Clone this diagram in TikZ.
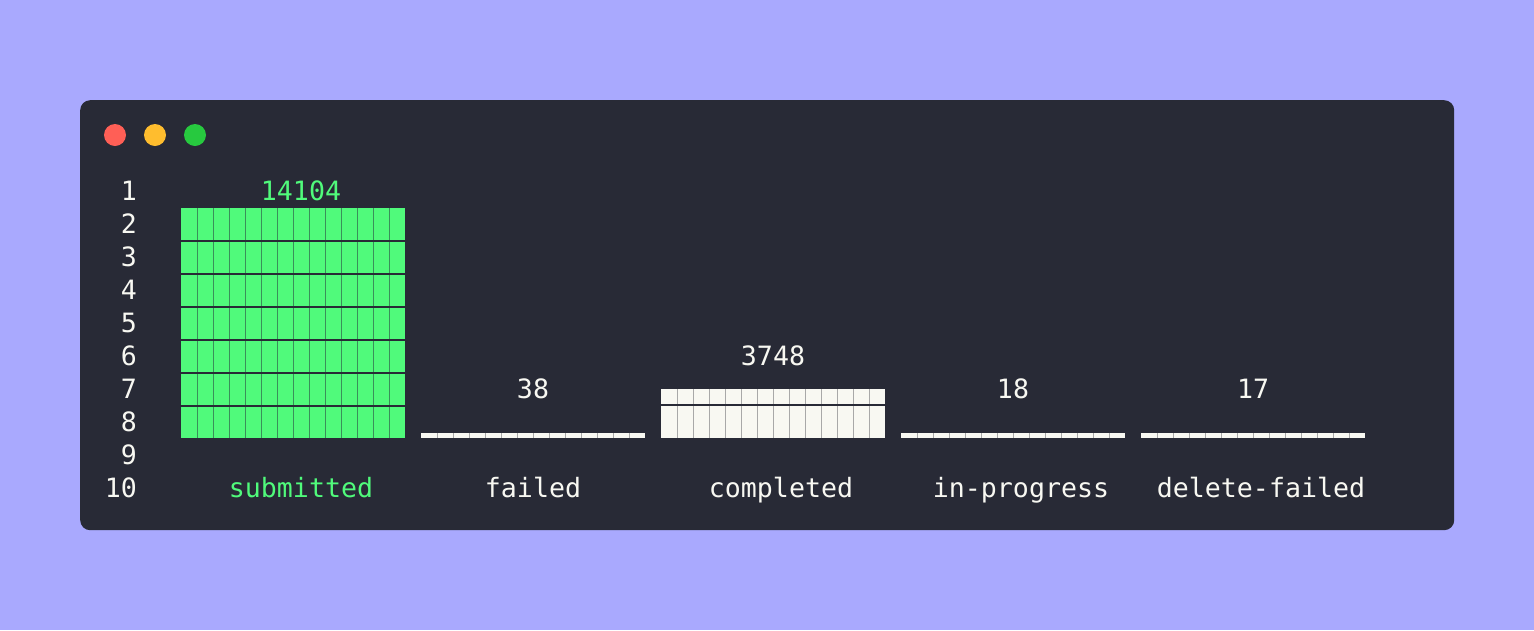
\documentclass[tikz,border=0pt]{standalone}
\usepackage{fontspec}
\setmonofont{DejaVu Sans Mono}
\definecolor{pagebg}{HTML}{A9A9FE}
\definecolor{winbg}{HTML}{282A36}
\definecolor{fg}{HTML}{F8F8F2}
\definecolor{grn}{HTML}{50FA7B}
\definecolor{grnsep}{HTML}{3A8F5A}
\definecolor{whsep}{HTML}{A8A8A8}
\definecolor{dotred}{HTML}{FF5F56}
\definecolor{dotyel}{HTML}{FFBD2E}
\definecolor{dotgrn}{HTML}{27C93F}
\tikzset{
  txt/.style={inner sep=0pt, font=\ttfamily\fontsize{26.6}{30}\selectfont, text=fg},
  lnum/.style={txt, anchor=base east},
  lbl/.style={txt, anchor=base},
  dot/.style={circle, inner sep=0pt, minimum size=22pt},
}
\begin{document}
\begin{tikzpicture}[x=1pt,y=-1pt]
\useasboundingbox (0,0) rectangle (1534,630);
\fill[pagebg] (0,0) rectangle (1534,630);
\node[fill=winbg, rounded corners=10pt, minimum width=1374pt, minimum height=430pt, inner sep=0pt, anchor=north west] (win) at (80,100) {};
\node[dot, fill=dotred] (d1) at (115,135) {};
\node[dot, fill=dotyel] (d2) at (155,135) {};
\node[dot, fill=dotgrn] (d3) at (195,135) {};
% line numbers
\foreach \i in {1,...,10} {
  \node[lnum] (ln\i) at (137,{191+33*(\i-1)+9.3}) {\i};
}
% submitted bar
\fill[grn] (181,208) rectangle (405,438);
\foreach \j in {1,...,13} \draw[grnsep, line width=0.8pt] ({181+16*\j},208) -- ({181+16*\j},438);
\foreach \k in {0,...,5} \draw[winbg, line width=1.8pt] (181,{240.8+33*\k}) -- (405,{240.8+33*\k});
% failed bar
\fill[fg] (421,433.2) rectangle (645,437.5);
\foreach \j in {1,...,13} \draw[whsep, line width=0.8pt] ({421+16*\j},433.2) -- ({421+16*\j},437.5);
% completed bar
\fill[fg] (661,389) rectangle (885,438);
\foreach \j in {1,...,13} \draw[whsep, line width=0.8pt] ({661+16*\j},389) -- ({661+16*\j},438);
\draw[winbg, line width=1.8pt] (661,404.8) -- (885,404.8);
% in-progress bar
\fill[fg] (901,433.2) rectangle (1125,437.5);
\foreach \j in {1,...,13} \draw[whsep, line width=0.8pt] ({901+16*\j},433.2) -- ({901+16*\j},437.5);
% delete-failed bar
\fill[fg] (1141,433.2) rectangle (1365,437.5);
\foreach \j in {1,...,13} \draw[whsep, line width=0.8pt] ({1141+16*\j},433.2) -- ({1141+16*\j},437.5);
% values
\node[lbl, text=grn] (v1) at (301,200.3) {14104};
\node[lbl] (v2) at (533,398.3) {38};
\node[lbl] (v3) at (773,365.3) {3748};
\node[lbl] (v4) at (1013,398.3) {18};
\node[lbl] (v5) at (1253,398.3) {17};
% labels
\node[lbl, text=grn] (l1) at (301,497.3) {submitted};
\node[lbl] (l2) at (533,497.3) {failed};
\node[lbl] (l3) at (781,497.3) {completed};
\node[lbl] (l4) at (1021,497.3) {in-progress};
\node[lbl] (l5) at (1261,497.3) {delete-failed};
\end{tikzpicture}
\end{document}
